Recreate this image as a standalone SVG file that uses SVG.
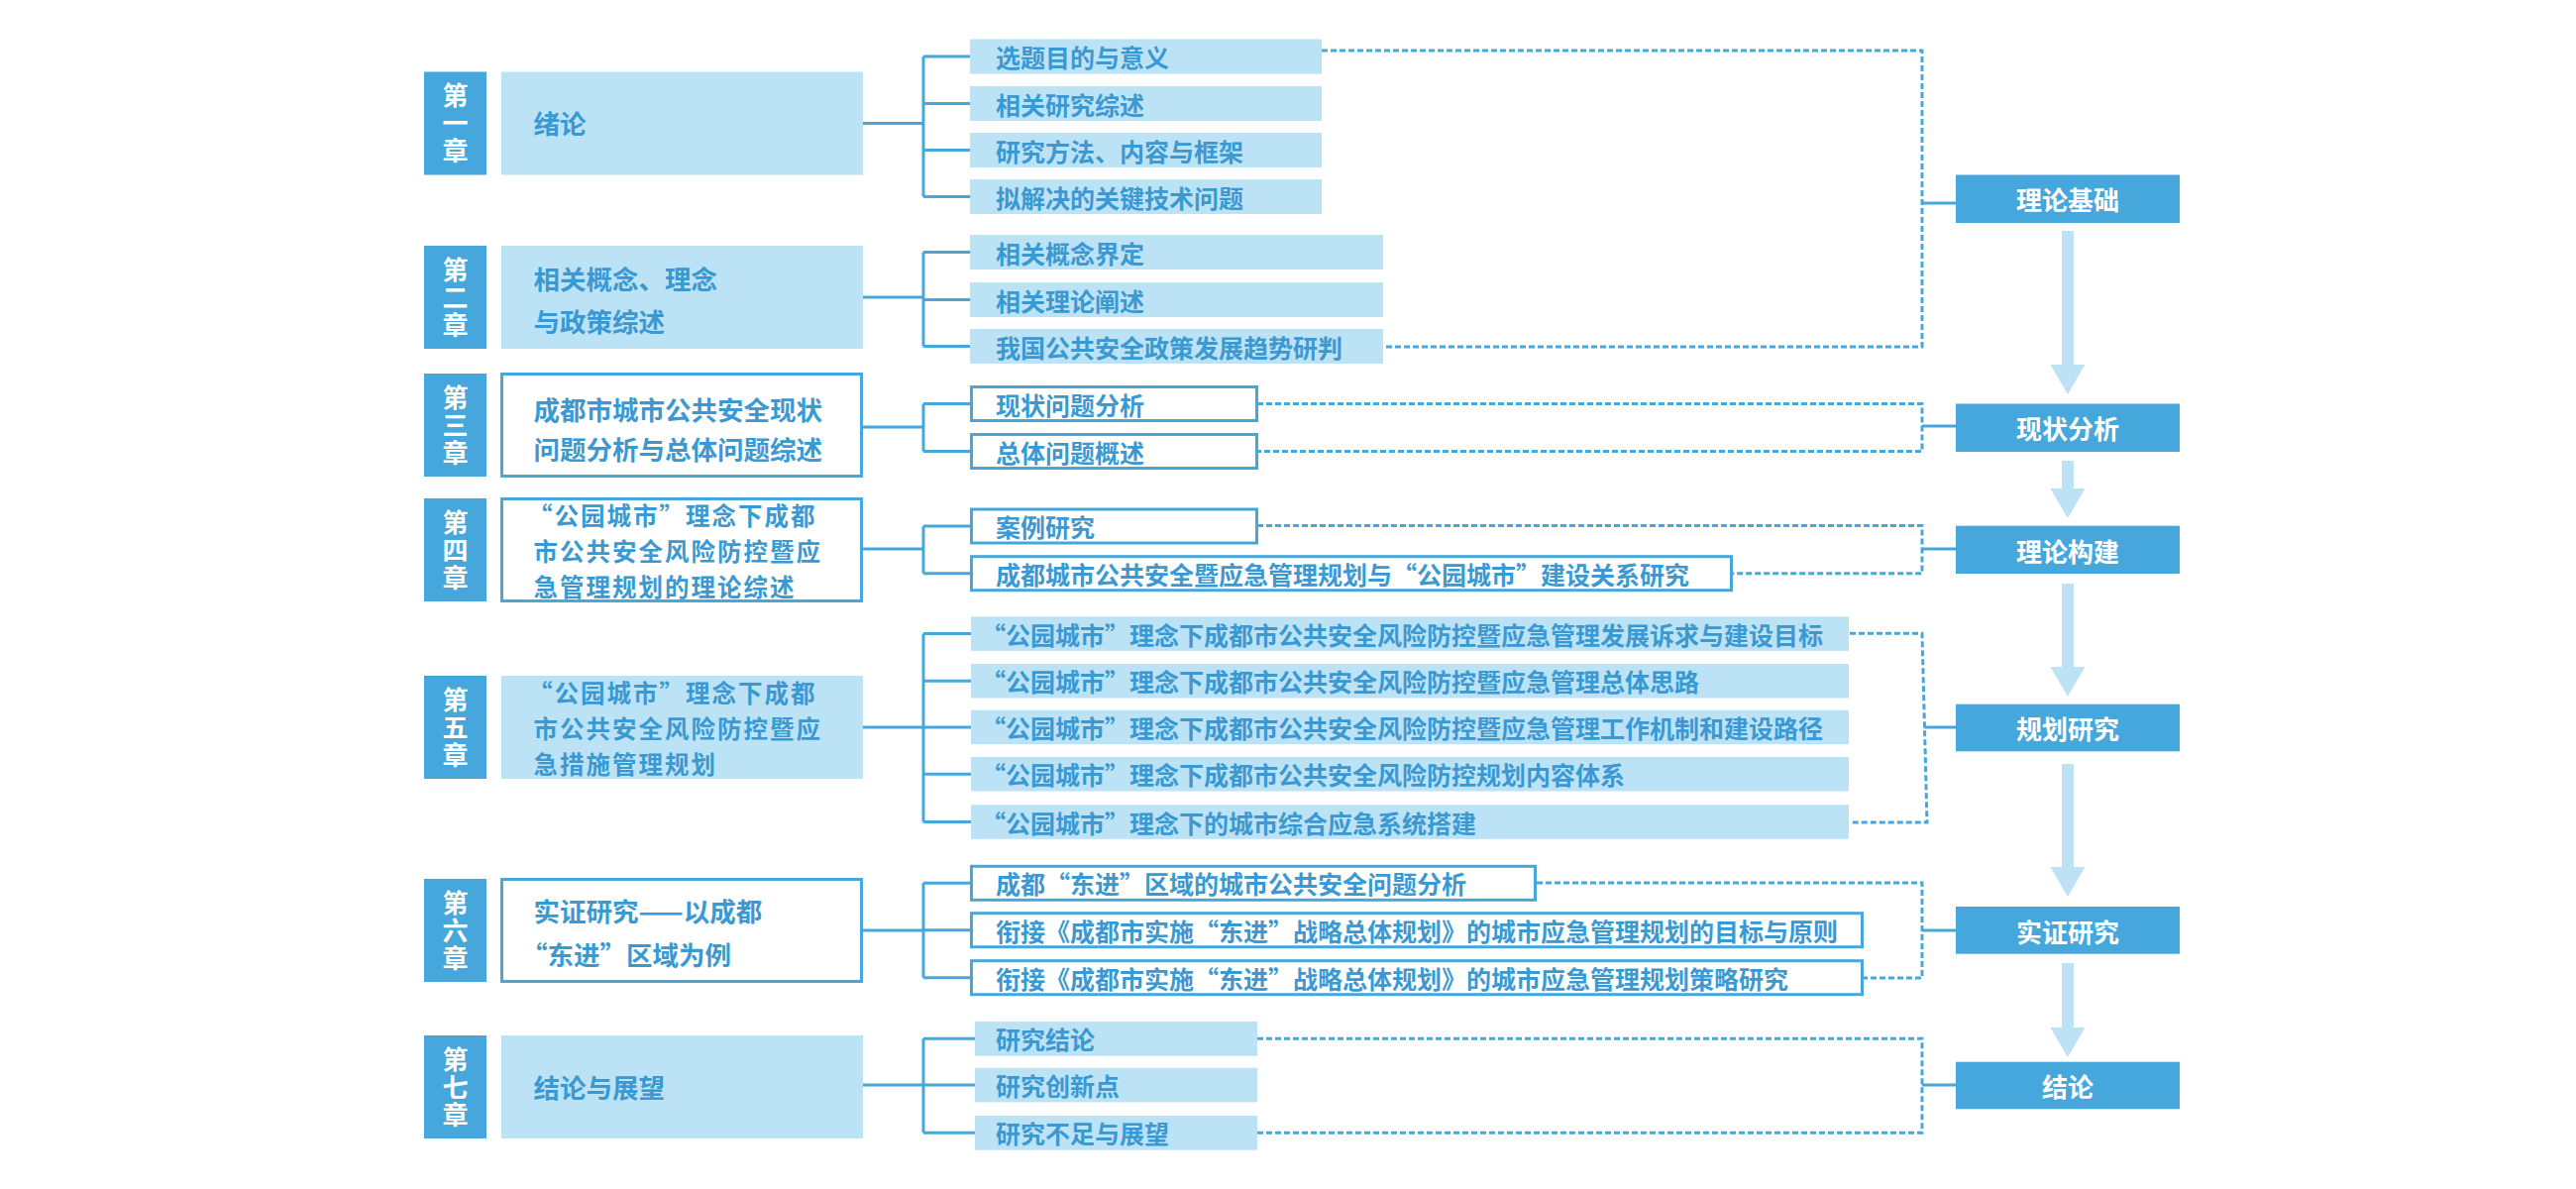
<svg xmlns="http://www.w3.org/2000/svg" width="2600" height="1200" viewBox="0 0 2600 1200">
<defs>
<style>
text{font-family:"Noto Sans CJK SC","Noto Sans CJK JP","Liberation Sans",sans-serif;font-weight:700;dominant-baseline:central}
tspan{dominant-baseline:central}
.lab{fill:#45A7DB}
.labt{fill:#fff;font-size:26px;text-anchor:middle;writing-mode:vertical-rl;text-orientation:upright;letter-spacing:2px}
.lt{fill:#BCE2F6}
.wb{fill:#fff;stroke:#45A7DB;stroke-width:3}
.tt{fill:#3A99D2;font-size:26.5px}
.tt3{fill:#3A99D2;font-size:24.5px;letter-spacing:2px}
.it{fill:#3A99D2;font-size:25px}
.rb{fill:#45A7DB}
.rt{fill:#fff;font-size:26px;text-anchor:middle}
.ln{fill:none;stroke:#45A7DB;stroke-width:3}
.dl{fill:none;stroke:#45A7DB;stroke-width:3;stroke-dasharray:6 3}
.ar{fill:#BDE2F5}
</style>
</defs>
<rect width="2600" height="1200" fill="#fff"/>

<g id="connectors">
<path class="ln" d="M871,124.5H932M932,57V198.5M932,57H979M932,104.5H979M932,151.5H979M932,198.5H979"/>
<path class="ln" d="M871,300H932M932,254.5V349.5M932,254.5H979M932,302.5H979M932,349.5H979"/>
<path class="ln" d="M871,431H932M932,407.5V455.5M932,407.5H979M932,455.5H979"/>
<path class="ln" d="M871,554H932M932,531V578.7M932,531H979M932,578.7H979"/>
<path class="ln" d="M871,734H932M932,639.5V829.5M932,639.5H980M932,687.3H980M932,734H980M932,781.3H980M932,829.5H980"/>
<path class="ln" d="M871,939H932M932,891.3V986.7M932,891.3H979M932,938.7H979M932,986.7H979"/>
<path class="ln" d="M871,1095H932M932,1048.3V1143.3M932,1048.3H984M932,1095H984M932,1143.3H984"/>
<path class="dl" d="M1334,51H1940V350H1396"/>
<path class="dl" d="M1269,407.5H1940V455.5H1269"/>
<path class="dl" d="M1269,530.5H1940V578.7H1748"/>
<path class="dl" d="M1867,639.3H1940L1945,830H1867"/>
<path class="dl" d="M1551,891H1940V987H1881"/>
<path class="dl" d="M1269,1048.3H1940V1143.3H1269"/>
<path class="ln" d="M1940,205H1974M1940,430H1974M1940,554H1974M1942,734H1974M1940,939H1974M1940,1095H1974"/>
<path class="ar" d="M2081,233H2093V368H2104.5L2087,398L2069.5,368H2081Z"/>
<path class="ar" d="M2081,465H2093V493H2104.5L2087,523L2069.5,493H2081Z"/>
<path class="ar" d="M2081,589H2093V673H2104.5L2087,703L2069.5,673H2081Z"/>
<path class="ar" d="M2081,771H2093V875H2104.5L2087,905L2069.5,875H2081Z"/>
<path class="ar" d="M2081,972H2093V1037H2104.5L2087,1067L2069.5,1037H2081Z"/>
</g>

<g id="ch1-label"><rect class="lab" x="428" y="72.5" width="63" height="104"/><text class="labt" x="459.5" y="125.5">第一章</text></g>
<g id="ch2-label"><rect class="lab" x="428" y="248" width="63" height="104"/><text class="labt" x="459.5" y="301">第二章</text></g>
<g id="ch3-label"><rect class="lab" x="428" y="377" width="63" height="104"/><text class="labt" x="459.5" y="430">第三章</text></g>
<g id="ch4-label"><rect class="lab" x="428" y="503" width="63" height="104"/><text class="labt" x="459.5" y="556">第四章</text></g>
<g id="ch5-label"><rect class="lab" x="428" y="682" width="63" height="104"/><text class="labt" x="459.5" y="735">第五章</text></g>
<g id="ch6-label"><rect class="lab" x="428" y="887" width="63" height="104"/><text class="labt" x="459.5" y="940">第六章</text></g>
<g id="ch7-label"><rect class="lab" x="428" y="1045" width="63" height="104"/><text class="labt" x="459.5" y="1098">第七章</text></g>

<g id="ch1-title"><rect class="lt" x="506" y="72.5" width="365" height="104"/><text class="tt" x="538.6" y="123.5">绪论</text></g>
<g id="ch2-title"><rect class="lt" x="506" y="248" width="365" height="104"/><text class="tt"><tspan x="538.6" y="280">相关概念、理念</tspan><tspan x="538.6" y="323">与政策综述</tspan></text></g>
<g id="ch3-title"><rect class="wb" x="506.5" y="377.5" width="363" height="103"/><text class="tt"><tspan x="538.6" y="411.7">成都市城市公共安全现状</tspan><tspan x="538.6" y="451.7">问题分析与总体问题综述</tspan></text></g>
<g id="ch4-title"><rect class="wb" x="506.5" y="503.5" width="363" height="103"/><text class="tt3"><tspan x="533" y="519">“公园城市”理念下成都</tspan><tspan x="538.6" y="555">市公共安全风险防控暨应</tspan><tspan x="538.6" y="591">急管理规划的理论综述</tspan></text></g>
<g id="ch5-title"><rect class="lt" x="506" y="682" width="365" height="104"/><text class="tt3"><tspan x="533" y="698">“公园城市”理念下成都</tspan><tspan x="538.6" y="734">市公共安全风险防控暨应</tspan><tspan x="538.6" y="770">急措施管理规划</tspan></text></g>
<g id="ch6-title"><rect class="wb" x="506.5" y="887.5" width="363" height="103"/><text class="tt"><tspan x="538.6" y="918.3">实证研究——以成都</tspan><tspan x="526" y="961.5">“东进”区域为例</tspan></text></g>
<g id="ch7-title"><rect class="lt" x="506" y="1045" width="365" height="104"/><text class="tt" x="538.6" y="1096.5">结论与展望</text></g>

<g id="ch1-i1"><rect class="lt" x="979" y="39.5" width="355" height="35"/><text class="it" x="1005" y="57">选题目的与意义</text></g>
<g id="ch1-i2"><rect class="lt" x="979" y="87" width="355" height="35"/><text class="it" x="1005" y="104.5">相关研究综述</text></g>
<g id="ch1-i3"><rect class="lt" x="979" y="134" width="355" height="35"/><text class="it" x="1005" y="151.5">研究方法、内容与框架</text></g>
<g id="ch1-i4"><rect class="lt" x="979" y="181" width="355" height="35"/><text class="it" x="1005" y="198.5">拟解决的关键技术问题</text></g>
<g id="ch2-i1"><rect class="lt" x="979" y="237" width="417" height="35"/><text class="it" x="1005" y="254.5">相关概念界定</text></g>
<g id="ch2-i2"><rect class="lt" x="979" y="285" width="417" height="35"/><text class="it" x="1005" y="302.5">相关理论阐述</text></g>
<g id="ch2-i3"><rect class="lt" x="979" y="332" width="417" height="35"/><text class="it" x="1005" y="349.5">我国公共安全政策发展趋势研判</text></g>
<g id="ch3-i1"><rect class="wb" x="980.5" y="390.5" width="288" height="34"/><text class="it" x="1005" y="407.5">现状问题分析</text></g>
<g id="ch3-i2"><rect class="wb" x="980.5" y="438.5" width="288" height="34"/><text class="it" x="1005" y="455.5">总体问题概述</text></g>
<g id="ch4-i1"><rect class="wb" x="980.5" y="514" width="288" height="34"/><text class="it" x="1005" y="531">案例研究</text></g>
<g id="ch4-i2"><rect class="wb" x="980.5" y="561.7" width="767" height="34"/><text class="it" x="1005" y="578.7">成都城市公共安全暨应急管理规划与“公园城市”建设关系研究</text></g>
<g id="ch5-i1"><rect class="lt" x="980" y="622.3" width="886" height="34.5"/><text class="it" x="990" y="639.5">“公园城市”理念下成都市公共安全风险防控暨应急管理发展诉求与建设目标</text></g>
<g id="ch5-i2"><rect class="lt" x="980" y="670" width="886" height="34.5"/><text class="it" x="990" y="687.3">“公园城市”理念下成都市公共安全风险防控暨应急管理总体思路</text></g>
<g id="ch5-i3"><rect class="lt" x="980" y="716.7" width="886" height="34.5"/><text class="it" x="990" y="734">“公园城市”理念下成都市公共安全风险防控暨应急管理工作机制和建设路径</text></g>
<g id="ch5-i4"><rect class="lt" x="980" y="764" width="886" height="34.5"/><text class="it" x="990" y="781.3">“公园城市”理念下成都市公共安全风险防控规划内容体系</text></g>
<g id="ch5-i5"><rect class="lt" x="980" y="812.3" width="886" height="34.5"/><text class="it" x="990" y="829.5">“公园城市”理念下的城市综合应急系统搭建</text></g>
<g id="ch6-i1"><rect class="wb" x="980.5" y="874.3" width="569" height="34"/><text class="it" x="1005" y="891.3">成都“东进”区域的城市公共安全问题分析</text></g>
<g id="ch6-i2"><rect class="wb" x="980.5" y="921.7" width="899" height="34"/><text class="it" x="1005" y="938.7">衔接《成都市实施“东进”战略总体规划》的城市应急管理规划的目标与原则</text></g>
<g id="ch6-i3"><rect class="wb" x="980.5" y="969.7" width="899" height="34"/><text class="it" x="1005" y="986.7">衔接《成都市实施“东进”战略总体规划》的城市应急管理规划策略研究</text></g>
<g id="ch7-i1"><rect class="lt" x="984" y="1031" width="285" height="34.7"/><text class="it" x="1005" y="1048.3">研究结论</text></g>
<g id="ch7-i2"><rect class="lt" x="984" y="1077.7" width="285" height="34.7"/><text class="it" x="1005" y="1095">研究创新点</text></g>
<g id="ch7-i3"><rect class="lt" x="984" y="1126" width="285" height="34.7"/><text class="it" x="1005" y="1143.3">研究不足与展望</text></g>

<g id="stage1"><rect class="rb" x="1974" y="176.5" width="226" height="48.5"/><text class="rt" x="2087" y="200.5">理论基础</text></g>
<g id="stage2"><rect class="rb" x="1974" y="407.5" width="226" height="48.5"/><text class="rt" x="2087" y="431.5">现状分析</text></g>
<g id="stage3"><rect class="rb" x="1974" y="530.7" width="226" height="48.3"/><text class="rt" x="2087" y="555">理论构建</text></g>
<g id="stage4"><rect class="rb" x="1974" y="710.7" width="226" height="47.6"/><text class="rt" x="2087" y="734.5">规划研究</text></g>
<g id="stage5"><rect class="rb" x="1974" y="915" width="226" height="47.7"/><text class="rt" x="2087" y="939">实证研究</text></g>
<g id="stage6"><rect class="rb" x="1974" y="1071.7" width="226" height="47.6"/><text class="rt" x="2087" y="1095.5">结论</text></g>
</svg>
